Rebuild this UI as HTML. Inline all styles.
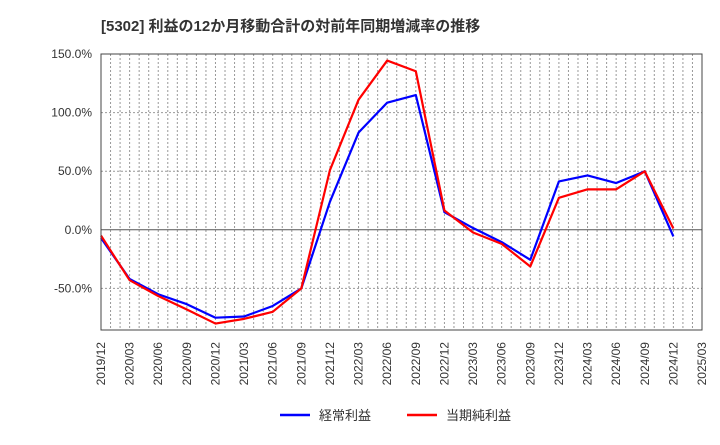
<!DOCTYPE html>
<html><head><meta charset="utf-8"><style>
body{margin:0;background:#fff;}
svg text{font-family:"Liberation Sans","Noto Sans CJK JP",sans-serif;fill:#333;}
</style></head><body>
<svg id="chart" width="720" height="440" xmlns="http://www.w3.org/2000/svg">
<text x="101" y="31" font-size="15" font-weight="bold">[5302]  利益の12か月移動合計の対前年同期増減率の推移</text>
<g id="grid"></g>
<g id="yticks"></g>
<g id="xticks"></g>
<g id="series"></g>
<rect x="101" y="54" width="601" height="276" fill="none" stroke="#444" stroke-width="1"/>
<g>
<line x1="280" y1="415" x2="310" y2="415" stroke="#0000ff" stroke-width="2.5"/>
<text x="319" y="420" font-size="13">経常利益</text>
<line x1="407" y1="415" x2="437" y2="415" stroke="#ff0000" stroke-width="2.5"/>
<text x="446" y="420" font-size="13">当期純利益</text>
</g>
</svg>
<script>
const categories = ["2019/12","2020/03","2020/06","2020/09","2020/12","2021/03","2021/06","2021/09","2021/12","2022/03","2022/06","2022/09","2022/12","2023/03","2023/06","2023/09","2023/12","2024/03","2024/06","2024/09","2024/12"];
const tickLabels = ["2019/12","2020/03","2020/06","2020/09","2020/12","2021/03","2021/06","2021/09","2021/12","2022/03","2022/06","2022/09","2022/12","2023/03","2023/06","2023/09","2023/12","2024/03","2024/06","2024/09","2024/12","2025/03"];
const ordinaryValues = [-7,-42,-55,-63.5,-75,-74,-65,-50,24,83,108.5,115,15,1.5,-10.5,-25.6,41.3,46.4,39.9,49.9,-5.7];
const netValues = [-5,-43,-56.5,-68,-80,-76,-70,-50,51,111,144.4,135.3,16.5,-2.3,-12,-31.3,27.3,34.5,34.5,49.9,1.1];
const yTicks = [150,100,50,0,-50];
const yTickLabels = ["150.0%","100.0%","50.0%","0.0%","-50.0%"];

const L=101,R=702,T=54,B=330,yMax=150,yMin=-85.5,months=63;
const ns="http://www.w3.org/2000/svg";
const xq=i=>L+(i*3)*(R-L)/months;
const xm=m=>L+m*(R-L)/months;
const y=v=>T+(yMax-v)*(B-T)/(yMax-yMin);
function mk(tag,attrs,parent){const e=document.createElementNS(ns,tag);for(const k in attrs)e.setAttribute(k,attrs[k]);parent.appendChild(e);return e;}
const grid=document.getElementById('grid');
for(let m=1;m<months;m++){
  const l=mk('line',{x1:xm(m),x2:xm(m),y1:T,y2:B,stroke:'#999','stroke-width':1,'stroke-dasharray':'2,2'},grid);
  
  
}
const yt=document.getElementById('yticks');
yTicks.forEach((v,i)=>{
  const l=mk('line',{x1:L,x2:R,y1:y(v),y2:y(v),stroke:v===0?'#555':'#999','stroke-width':1,'stroke-dasharray':v===0?'':'2,2'},grid);
  
  
  const t=mk('text',{x:92,y:y(v)+4,'text-anchor':'end','font-size':12},yt);
  t.textContent=yTickLabels[i];
  
  
});
const xt=document.getElementById('xticks');
tickLabels.forEach((s,i)=>{
  const x=xq(i);
  const t=mk('text',{x:0,y:0,'text-anchor':'end','font-size':12,transform:`translate(${x+4},342) rotate(-90)`},xt);
  t.textContent=s;
  
  
});
const sg=document.getElementById('series');
function line(vals,color,name){
  const p=mk('polyline',{points:vals.map((v,i)=>xq(i)+','+y(v)).join(' '),fill:'none',stroke:color,'stroke-width':2.2,'stroke-linejoin':'round'},sg);
  
  
}
line(ordinaryValues,'#0000ff','ordinary-profit-line');
line(netValues,'#ff0000','net-profit-line');
</script>
</body></html>
